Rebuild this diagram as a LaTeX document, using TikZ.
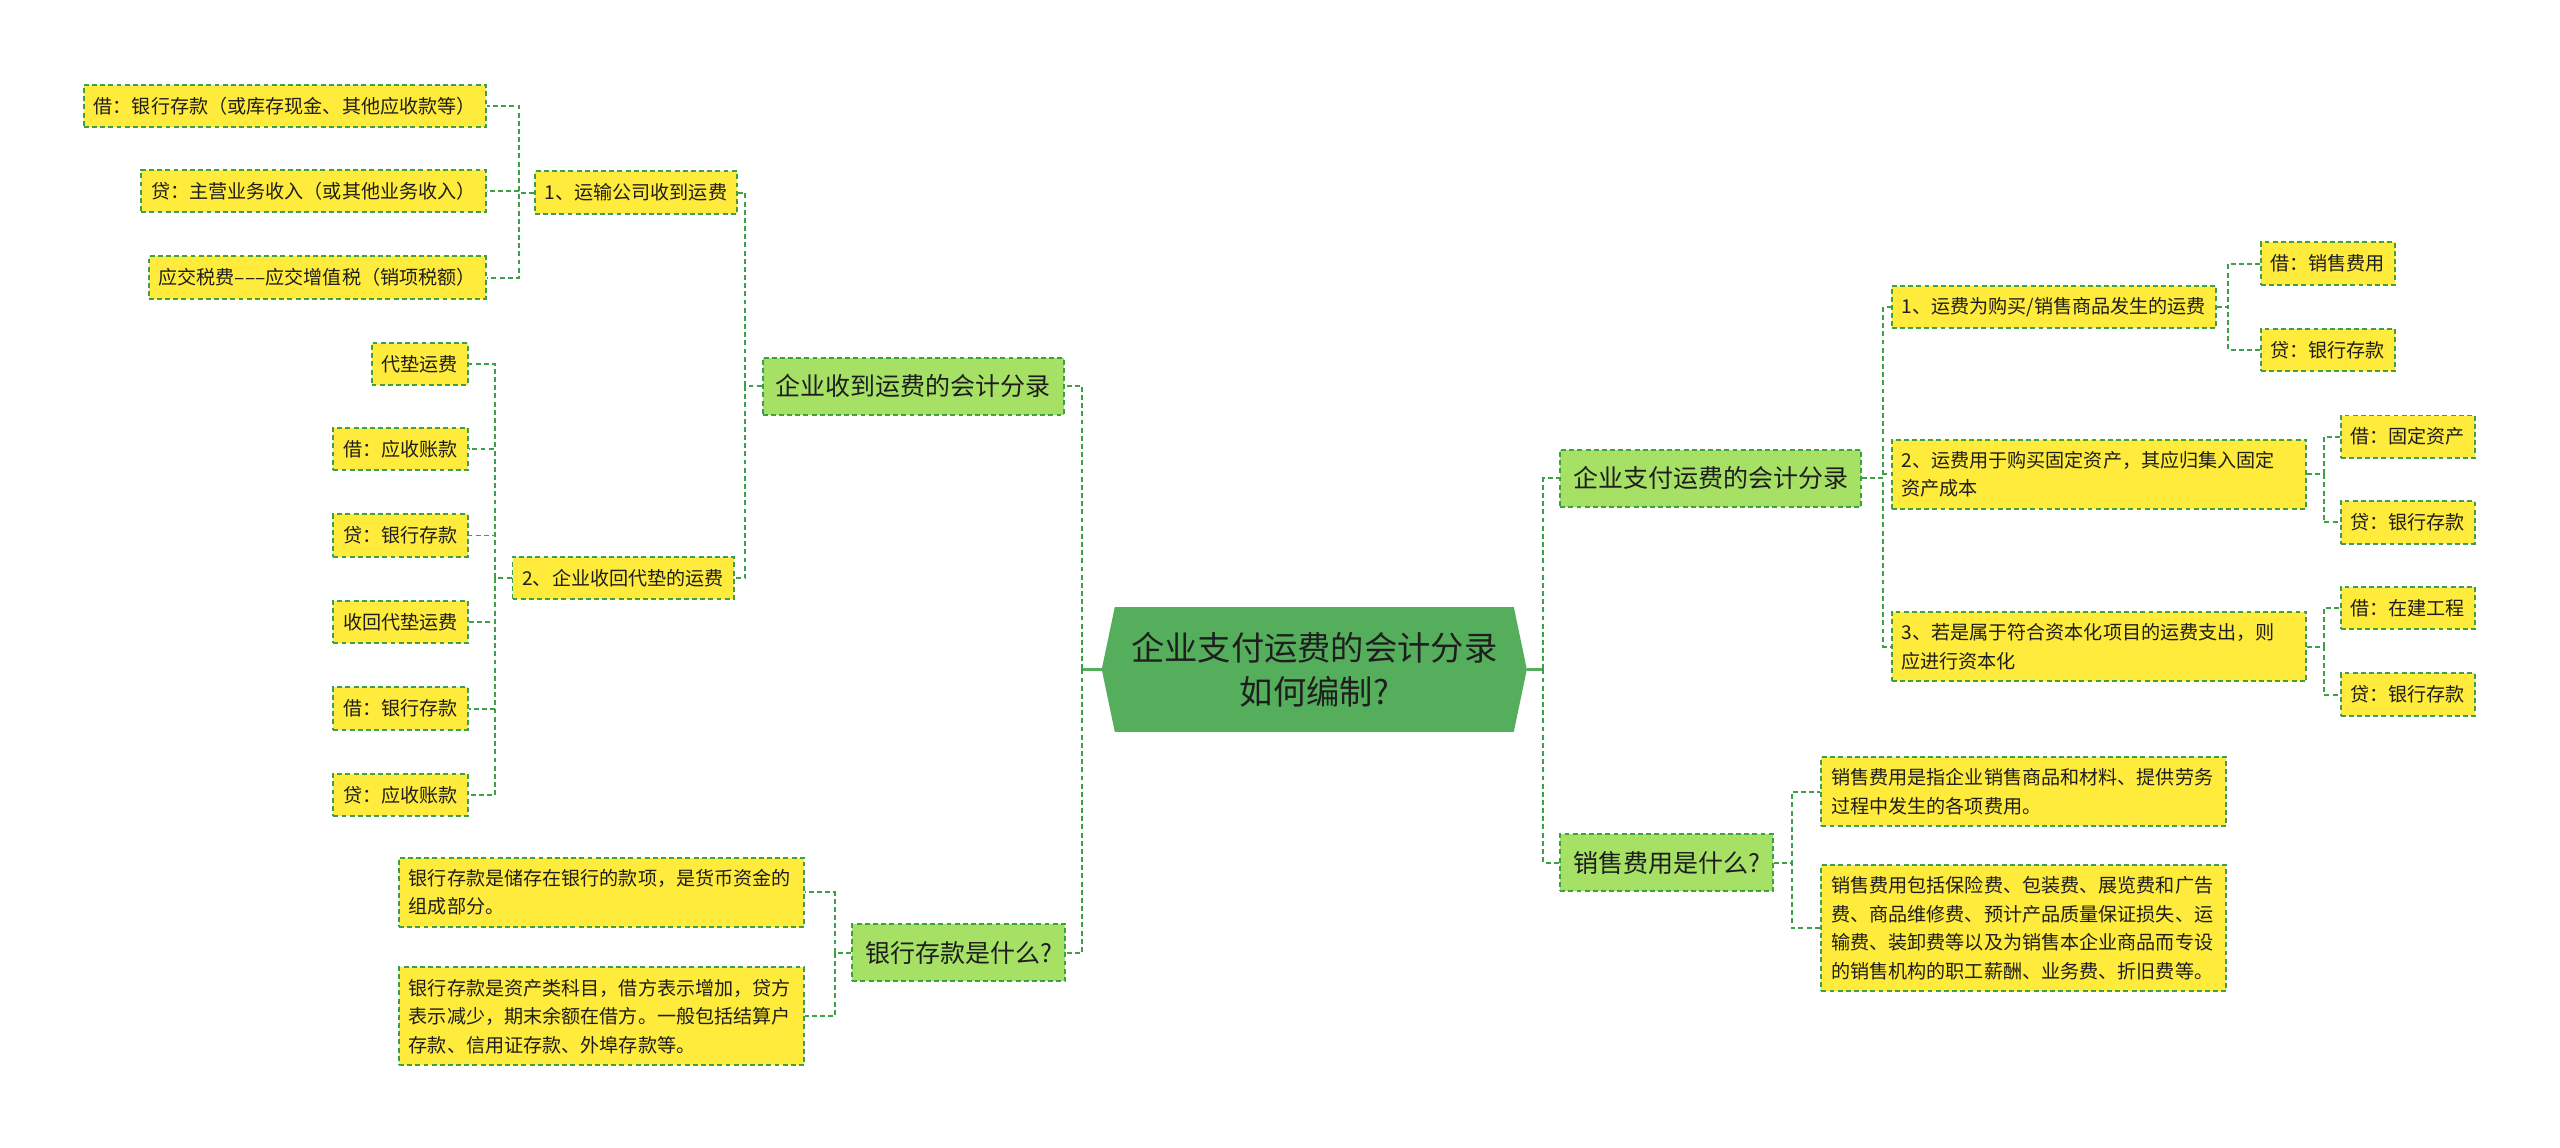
\documentclass[tikz,border=0pt]{standalone}
\usepackage{fontspec}
\newfontfamily\cjk{Noto Sans CJK SC}
\usetikzlibrary{backgrounds}
\definecolor{rootgreen}{HTML}{55AE5C}
\definecolor{topicgreen}{HTML}{A6E065}
\definecolor{leafyellow}{HTML}{FFEB3B}
\definecolor{linegreen}{HTML}{3F9E48}
\definecolor{textdark}{HTML}{1E1E1E}

\tikzset{
  rootnode/.style={text=textdark, font=\cjk\fontsize{20.4}{27}\selectfont, align=center,
    minimum width=260pt, minimum height=76pt, inner sep=0pt},
  topic/.style={draw=linegreen, line width=1.2pt, dash pattern=on 3pt off 2pt, fill=topicgreen,
    text=textdark, font=\cjk\fontsize{15.3}{19}\selectfont, inner xsep=8pt, inner ysep=0pt, minimum height=35pt},
  leaf/.style={draw=linegreen, line width=1.2pt, dash pattern=on 3pt off 2pt, fill=leafyellow,
    text=textdark, font=\cjk\fontsize{11.7}{17.5}\selectfont, align=left, inner xsep=6pt, inner ysep=7pt, minimum height=26pt},
  link/.style={draw=linegreen, line width=1.2pt, dash pattern=on 3pt off 2pt},
  stub/.style={draw=rootgreen, line width=1.5pt},
}

\begin{document}
\begin{tikzpicture}[x=1pt, y=-1pt]
  \useasboundingbox (0,0) rectangle (1568,703);

  % centre
  \node[rootnode] (root) at (805,410) {企业支付运费的会计分录\\如何编制?};
  \begin{scope}[on background layer]
    \fill[white] (0,0) rectangle (1568,703);
    \fill[rootgreen] ([xshift=8pt]root.north west) -- ([xshift=-8pt]root.north east) -- (root.east)
      -- ([xshift=-8pt]root.south east) -- ([xshift=8pt]root.south west) -- (root.west) -- cycle;
  \end{scope}

  % first level
  \node[topic, anchor=east] (recv) at (652,236.5) {企业收到运费的会计分录};
  \node[topic, anchor=east] (bank) at (653,583.5) {银行存款是什么?};
  \node[topic, anchor=west] (pay) at (955,293) {企业支付运费的会计分录};
  \node[topic, anchor=west] (sale) at (955,528.5) {销售费用是什么?};

  % left, second level
  \node[leaf, anchor=east] (recvA) at (452,118) {1、运输公司收到运费};
  \node[leaf, anchor=east] (recvB) at (450,354) {2、企业收回代垫的运费};
  \node[leaf, anchor=east, text width=236pt] (bankA) at (493,546.5) {银行存款是储存在银行的款项，是货币资金的\\组成部分。};
  \node[leaf, anchor=east, text width=236pt] (bankB) at (493,622.5) {银行存款是资产类科目，借方表示增加，贷方\\表示减少，期末余额在借方。一般包括结算户\\存款、信用证存款、外埠存款等。};

  % left, third level
  \node[leaf, anchor=east] (ra1) at (298,65) {借：银行存款（或库存现金、其他应收款等）};
  \node[leaf, anchor=east] (ra2) at (298,117) {贷：主营业务收入（或其他业务收入）};
  \node[leaf, anchor=east] (ra3) at (298,170) {应交税费–––应交增值税（销项税额）};
  \node[leaf, anchor=east] (rb1) at (287,223) {代垫运费};
  \node[leaf, anchor=east] (rb2) at (287,275) {借：应收账款};
  \node[leaf, anchor=east] (rb3) at (287,328) {贷：银行存款};
  \node[leaf, anchor=east] (rb4) at (287,381) {收回代垫运费};
  \node[leaf, anchor=east] (rb5) at (287,434) {借：银行存款};
  \node[leaf, anchor=east] (rb6) at (287,487) {贷：应收账款};

  % right, second level
  \node[leaf, anchor=west] (payA) at (1158,188) {1、运费为购买/销售商品发生的运费};
  \node[leaf, anchor=west, text width=242pt] (payB) at (1158,290.5) {2、运费用于购买固定资产，其应归集入固定\\资产成本};
  \node[leaf, anchor=west, text width=242pt] (payC) at (1158,396) {3、若是属于符合资本化项目的运费支出，则\\应进行资本化};
  \node[leaf, anchor=west, text width=236pt] (saleA) at (1115,485) {销售费用是指企业销售商品和材料、提供劳务\\过程中发生的各项费用。};
  \node[leaf, anchor=west, text width=236pt] (saleB) at (1115,568.5) {销售费用包括保险费、包装费、展览费和广告\\费、商品维修费、预计产品质量保证损失、运\\输费、装卸费等以及为销售本企业商品而专设\\的销售机构的职工薪酬、业务费、折旧费等。};

  % right, third level
  \node[leaf, anchor=west] (pa1) at (1384,161.5) {借：销售费用};
  \node[leaf, anchor=west] (pa2) at (1384,214.5) {贷：银行存款};
  \node[leaf, anchor=west] (pb1) at (1433,267.5) {借：固定资产};
  \node[leaf, anchor=west] (pb2) at (1433,320) {贷：银行存款};
  \node[leaf, anchor=west] (pc1) at (1433,372.5) {借：在建工程};
  \node[leaf, anchor=west] (pc2) at (1433,425.5) {贷：银行存款};

  % connectors
  \draw[stub] (root.west) -- ++(-12,0) coordinate (lt);
  \draw[stub] (root.east) -- ++(10,0) coordinate (rt);
  \foreach \c in {recv,bank} \draw[link] (lt) |- (\c.east);
  \foreach \c in {pay,sale} \draw[link] (rt) |- (\c.west);

  \foreach \c in {recvA,recvB} \draw[link] (recv.west) -- ++(-10,0) |- (\c.east);
  \foreach \c in {bankA,bankB} \draw[link] (bank.west) -- ++(-10,0) |- (\c.east);
  \foreach \c in {ra1,ra2,ra3} \draw[link] (recvA.west) -- ++(-9,0) |- (\c.east);
  \foreach \c in {rb1,rb2,rb3,rb4,rb5,rb6} \draw[link] (recvB.west) -- ++(-10,0) |- (\c.east);

  \foreach \c in {payA,payB,payC} \draw[link] (pay.east) -- ++(13,0) |- (\c.west);
  \foreach \c in {saleA,saleB} \draw[link] (sale.east) -- ++(11,0) |- (\c.west);
  \foreach \c in {pa1,pa2} \draw[link] (payA.east) -- ++(7,0) |- (\c.west);
  \foreach \c in {pb1,pb2} \draw[link] (payB.east) -- ++(10,0) |- (\c.west);
  \foreach \c in {pc1,pc2} \draw[link] (payC.east) -- ++(10,0) |- (\c.west);
\end{tikzpicture}
\end{document}
